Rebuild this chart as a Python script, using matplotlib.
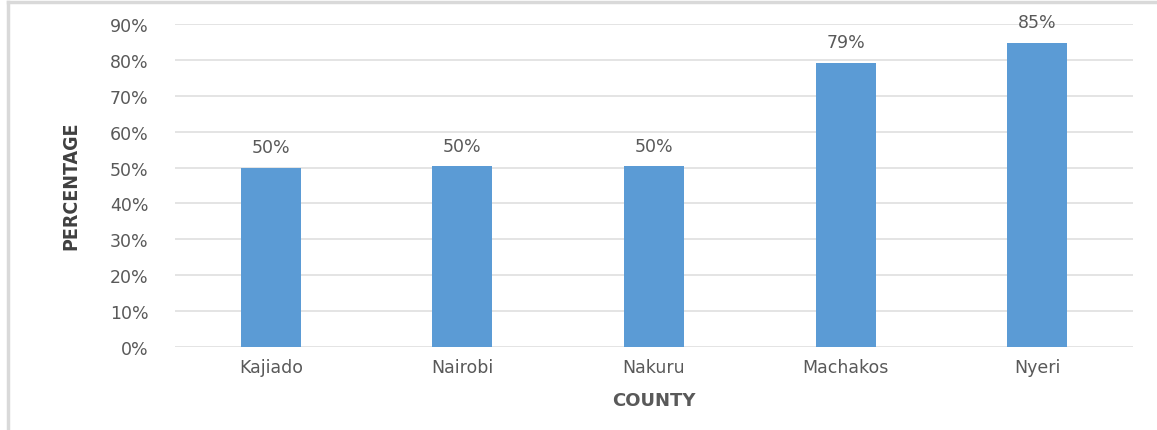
import matplotlib.pyplot as plt
from matplotlib.lines import Line2D

counties = ["Kajiado", "Nairobi", "Nakuru", "Machakos", "Nyeri"]
values = [0.498, 0.503, 0.503, 0.792, 0.848]
labels = ["50%", "50%", "50%", "79%", "85%"]
yticks = [0, 0.1, 0.2, 0.3, 0.4, 0.5, 0.6, 0.7, 0.8, 0.9]

grey = "#595959"
plt.rcParams["font.family"] = ["DejaVu Sans"]

fig = plt.figure(figsize=(11.57, 4.31), dpi=100)
ax = fig.add_axes([0.1513, 0.1926, 0.828, 0.7494])

x = range(len(counties))
ax.bar(x, values, width=0.313, color="#5b9bd5", zorder=3)
for i, v in enumerate(values):
    ax.text(i, v + 0.033, labels[i], ha="center", va="bottom",
            fontsize=12.5, color=grey)

ax.set_xlim(-0.5, len(counties) - 0.5)
ax.set_ylim(0, 0.9)
ax.set_yticks(yticks)
ax.set_yticklabels([f"{int(round(t * 100))}%" for t in yticks])
ax.set_xticks(list(x))
ax.set_xticklabels(counties)
ax.tick_params(axis="both", length=0, labelsize=12.5, colors=grey)
ax.tick_params(axis="y", pad=19)
ax.tick_params(axis="x", pad=8)
ax.yaxis.grid(True, color="#dcdcdc", lw=1.1, zorder=0)
for s in ax.spines.values():
    s.set_visible(False)

ax.set_xlabel("COUNTY", fontsize=13, fontweight="bold", color=grey, labelpad=11)
fig.text(0.061, 0.57, "PERCENTAGE", rotation=90, ha="center", va="center",
         fontsize=14, fontweight="bold", color="#404040",
         family=["Liberation Sans Narrow", "DejaVu Sans"], stretch="condensed")

# outer frame
fig.add_artist(Line2D([8 / 1157, 1], [0.993, 0.993], transform=fig.transFigure,
                      color="#d9d9d9", lw=2.5))
fig.add_artist(Line2D([8 / 1157, 8 / 1157], [0, 0.993], transform=fig.transFigure,
                      color="#d9d9d9", lw=2.5))

plt.savefig("out.png", dpi=100)
